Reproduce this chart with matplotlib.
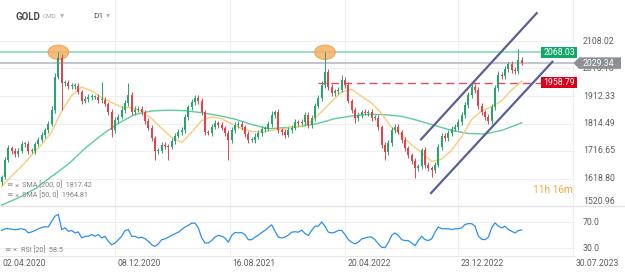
import numpy as np
import matplotlib
matplotlib.use("Agg")
import matplotlib.pyplot as plt
from matplotlib.patches import Ellipse, Polygon, Rectangle
import matplotlib.transforms as mtransforms

plt.rcParams['font.family'] = ['Roboto', 'DejaVu Sans']

# ---------------- data (weekly-ish bars) ----------------
first_open = 1606
closes = [
    1624, 1685, 1727, 1717, 1706, 1717, 1742, 1742, 1717, 1717,
    1742, 1756, 1774, 1791, 1813, 1863, 1980, 2048, 1959, 1959,
    1948, 1948, 1948, 1927, 1895, 1902, 1909, 1909, 1909, 1898,
    1898, 1884, 1855, 1791, 1827, 1838, 1863, 1887, 1916, 1855,
    1863, 1866, 1855, 1823, 1799, 1763, 1717, 1717, 1738, 1734,
    1731, 1752, 1770, 1784, 1791, 1838, 1873, 1891, 1905, 1895,
    1855, 1784, 1781, 1802, 1816, 1809, 1799, 1781, 1756, 1791,
    1809, 1813, 1802, 1777, 1756, 1756, 1767, 1781,
    1795, 1795, 1813, 1845, 1855, 1791, 1784, 1774, 1791, 1799,
    1820, 1816, 1820, 1845, 1809, 1834, 1877, 1905, 1952, 1998,
    1944, 1923, 1930, 1934, 1969, 1952, 1895, 1863, 1834, 1845,
    1855, 1852, 1855, 1834, 1834, 1802, 1738, 1713, 1745,
    1791, 1802, 1784, 1756, 1727, 1702, 1681, 1656, 1663, 1720,
    1667, 1656, 1649, 1667, 1731, 1770, 1763, 1781, 1795, 1802,
    1820, 1845, 1880, 1916, 1944, 1934, 1877, 1855, 1838, 1823,
    1873, 1941, 1987, 1983, 2008, 2026, 2005, 2001, 2040, 2029.34,
]
wick_hi = [
    8, 10, 12, 8, 10, 9, 12, 8, 10, 9,
    8, 10, 9, 8, 10, 12, 14, 22, 15, 12,
    10, 12, 9, 10, 8, 12, 9, 10, 8, 12,
    64, 10, 8, 12, 9, 10, 12, 10, 44, 10,
    12, 9, 10, 8, 10, 9, 8, 12, 10, 9,
    8, 10, 9, 10, 12, 10, 9, 12, 11, 10,
    10, 9, 8, 12, 10, 9, 10, 8, 9, 12,
    10, 12, 9, 8, 10, 9, 12, 10,
    9, 12, 10, 14, 8, 10, 9, 10, 12, 9,
    10, 8, 12, 10, 9, 10, 12, 10, 14, 72,
    12, 10, 9, 10, 18, 10, 9, 8, 10, 12,
    9, 10, 8, 12, 9, 10, 8, 10, 12,
    10, 9, 12, 8, 10, 9, 8, 10, 9, 8,
    10, 9, 8, 10, 12, 10, 9, 12, 10, 9,
    10, 12, 10, 9, 12, 10, 9, 10, 8, 10,
    12, 10, 14, 10, 12, 9, 10, 12, 40, 10,
]
wick_lo = [
    10, 8, 9, 12, 10, 9, 8, 10, 12, 9,
    10, 8, 9, 10, 12, 9, 10, 8, 96, 10,
    12, 9, 10, 8, 12, 9, 10, 12, 9, 10,
    10, 9, 12, 25, 10, 9, 8, 10, 9, 12,
    10, 9, 12, 10, 9, 10, 32, 10, 9, 12,
    46, 9, 10, 8, 10, 9, 12, 10, 9, 10,
    12, 10, 9, 10, 8, 12, 9, 10, 71, 10,
    9, 10, 12, 9, 10, 8, 10, 9,
    10, 9, 8, 12, 10, 9, 10, 12, 9, 10,
    9, 10, 8, 10, 12, 9, 10, 8, 10, 12,
    10, 9, 12, 10, 9, 10, 8, 12, 18, 10,
    10, 9, 12, 10, 8, 10, 9, 28, 10,
    9, 10, 8, 12, 10, 9, 12, 35, 10, 9,
    10, 9, 24, 10, 9, 12, 10, 9, 10, 8,
    9, 10, 12, 9, 10, 12, 10, 9, 12, 10,
    9, 10, 12, 9, 10, 12, 10, 9, 10, 8,
]
sma200_bars = list(range(0, 156, 5)) + [156]
sma200_vals = [
    1524, 1550, 1582, 1626, 1670, 1726, 1774, 1815, 1847, 1859,
    1862, 1860, 1853, 1843, 1830, 1811, 1796, 1800, 1804, 1815,
    1832, 1841, 1847, 1846, 1840, 1825, 1807, 1790, 1779, 1777,
    1790, 1812, 1817.42,
]
sma50_bars = list(range(0, 157, 3))
sma50_vals = [
    1590, 1628, 1662, 1702, 1740, 1784, 1859, 1914, 1944, 1930,
    1907, 1889, 1873, 1870, 1859, 1832, 1797, 1765, 1747, 1784,
    1825, 1838, 1832, 1813, 1797, 1786, 1784, 1790, 1795, 1800,
    1806, 1823, 1857, 1893, 1927, 1936, 1911, 1887, 1850, 1800,
    1774, 1738, 1711, 1679, 1688, 1720, 1767, 1829, 1859, 1875,
    1895, 1934, 1964.81,
]
rsi_vals = [
    57.7, 60.3, 60.3, 59.6, 58.7, 59.5, 60.3, 59, 53.8, 55.4,
    57.5, 60.3, 62.2, 63.5, 63, 72, 79.9, 82.5, 59, 61.7,
    56.4, 57.5, 53.8, 55.4, 46, 48.6, 48.6, 51.2, 48.6, 51.2,
    46, 48.6, 40.7, 35.5, 38, 43.3, 48.6, 57.5, 59, 48.6,
    48.6, 46, 47.1, 45, 40.7, 35.5, 32.9, 36.8, 43.3, 44.6,
    47.3, 50, 52.5, 55, 59, 63, 65.6, 69, 69, 61.7,
    46, 38.2, 38.2, 42, 47.3, 50, 48.6, 46, 39.4, 49.9,
    54.6, 53.8, 54.4, 51, 43.3, 43.3, 47.3, 50.4, 54.4, 57.7,
    62.4, 66.4, 56.4, 47.3, 46, 47.3, 50.4, 55, 55.6, 55,
    58.2, 53, 50, 57.7, 64.3, 64.3,
    70.8, 64.3, 55, 53.8, 55, 57.7, 57.7, 51.2, 43.3, 39.4,
    36.8, 39.4, 44.6, 46, 47.3, 47.3, 43.3, 36.8, 31.6, 31,
    38.8, 50, 53.8, 50, 43.3, 42, 42, 38.2, 34.2, 42,
    48.6, 43.3, 42, 44.6, 55, 63, 60.3, 60.3, 60.3, 59,
    60.3, 60.3, 61.7, 66.9, 68.2, 68.2, 64.3, 49, 44, 43.3,
    47.3, 61.7, 69.5, 64.3, 61.7, 64.3, 59, 56.4, 53.8, 57.5,
    58.5,
]
price_ticks = [2108.02, 2010.18, 1912.33, 1814.49, 1716.65, 1618.80, 1520.96]
rsi_ticks = [70.0, 30.0]
date_labels = ['02.04.2020', '08.12.2020', '16.08.2021', '20.04.2022', '23.12.2022', '30.07.2023']
date_bars = [-0.5, 34.0, 68.5, 103.0, 137.0, 171.5]
resistance = 2068.03
last_price = 2029.34
support = 1958.79
support_from_bar = 95
sma200_last = 1817.42
sma50_last = 1964.81
rsi_last = 58.5
rsi_period = 20
channel_upper_x = [125.8, 160.5]
channel_upper_y = [1758, 2207]
channel_lower_x = [128.8, 165.2]
channel_lower_y = [1567, 2034]

n = len(closes)
assert len(wick_hi) == n and len(wick_lo) == n and len(rsi_vals) == n
assert len(sma200_bars) == len(sma200_vals) and len(sma50_bars) == len(sma50_vals)

# ---------------- styling ----------------
W, H = 625, 275
GREEN = '#26a66c'
RED = '#e6424c'
GRID = '#efefef'
TXT = '#5b5e63'
LEG = '#808080'

fig = plt.figure(figsize=(W / 100, H / 100), dpi=100)
fig.patch.set_facecolor('white')

def fx(px):
    return px / W

def fy(py):
    return 1 - py / H

ax = fig.add_axes([0, fy(206), fx(575), 206 / H])
axr = fig.add_axes([0, fy(256), fx(575), 50 / H], sharex=ax)
for a in (ax, axr):
    for s in a.spines.values():
        s.set_visible(False)
    a.tick_params(left=False, bottom=False, labelleft=False, labelbottom=False)
    a.set_facecolor('none')

ax.set_xlim(-0.5, 172.0)
ax.set_ylim(1520.96, 2253.9)
axr.set_ylim(18.0, 95.6)

idx = np.arange(n)
c = np.array(closes, dtype=float)
o = np.array([first_open] + closes[:-1], dtype=float)
hi = np.maximum(o, c) + np.array(wick_hi)
lo = np.minimum(o, c) - np.array(wick_lo)
up = c >= o
cols = np.where(up, GREEN, RED)

# grid
for p in price_ticks[:-1]:
    ax.axhline(p, color=GRID, lw=0.8, zorder=0)
for xb in date_bars[1:]:
    ax.axvline(xb, color=GRID, lw=0.8, zorder=0)
    axr.axvline(xb, color=GRID, lw=0.8, zorder=0)
for r in rsi_ticks:
    axr.axhline(r, color=GRID, lw=0.8, zorder=0)
# panel separators
fig.add_artist(plt.Line2D([0, 1], [fy(206), fy(206)], transform=fig.transFigure, color='#e2e2e2', lw=0.9))
fig.add_artist(plt.Line2D([0, fx(575)], [fy(256), fy(256)], transform=fig.transFigure, color='#e8e8e8', lw=0.8))

# level lines
ax.axhline(resistance, color='#7fd8b2', lw=1.1, zorder=1)
ax.axhline(last_price, color='#c3c6ca', lw=1.5, zorder=1)
ax.plot([support_from_bar, 172.0], [support, support], color='#e0505a', lw=1.0,
        dashes=(5.8, 3.4), zorder=1.5)

# ellipses on the two peaks
peak1 = int(np.argmax(hi[:60]))
peak2 = 80 + int(np.argmax(hi[80:120]))
for pk in (peak1, peak2):
    ax.add_patch(Ellipse((pk, resistance), 6.2, 51, facecolor='#f6b064', edgecolor='#f0a048',
                         lw=0.8, alpha=0.85, zorder=2.5))

# SMAs
ax.plot(sma200_bars, sma200_vals, color='#5ccc9e', lw=1.0, zorder=2)
ax.plot(sma50_bars, sma50_vals, color='#f8cc78', lw=1.0, zorder=2)

# candles
ax.vlines(idx, lo, hi, colors=cols, lw=0.7, zorder=3)
ax.bar(idx, np.maximum(np.abs(c - o), 2.0), bottom=np.minimum(o, c), width=0.6,
       color=cols, lw=0, zorder=3)

# channel
ax.plot(channel_upper_x, channel_upper_y, color='#5c5f95', lw=1.6, zorder=4, clip_on=False)
ax.plot(channel_lower_x, channel_lower_y, color='#5c5f95', lw=1.6, zorder=4, clip_on=False)

# RSI
axr.plot(idx, rsi_vals, color='#2b8ff0', lw=0.9, zorder=3)

# price axis labels
bt = mtransforms.blended_transform_factory(fig.transFigure, ax.transData)
for p in price_ticks:
    tr = bt if p != price_ticks[-1] else mtransforms.offset_copy(bt, fig=fig, y=4, units='dots')
    ax.text(fx(583), p, f'{p:.2f}', transform=tr, ha='left', va='center', fontsize=6.3,
            color=TXT, clip_on=False, zorder=5)
btr = mtransforms.blended_transform_factory(fig.transFigure, axr.transData)
for r in rsi_ticks:
    axr.text(fx(583), r, f'{r:.1f}', transform=btr, ha='left', va='center', fontsize=6.3,
             color=TXT, clip_on=False)

# value boxes
def box(level, text, fc, x0=541, x1=577, hh=19.5):
    ax.add_patch(Rectangle((fx(x0), level - hh), fx(x1 - x0), 2 * hh, transform=bt,
                           facecolor=fc, edgecolor='none', clip_on=False, zorder=6))
    ax.text(fx(x0 + 2.5), level, text, transform=bt, ha='left', va='center', fontsize=6.3,
            color='white', clip_on=False, zorder=7)

box(resistance, f'{resistance:.2f}', '#13a86b')
box(support, f'{support:.2f}', '#d9001b')
hh = 20.5
poly = Polygon([(fx(573.5), last_price), (fx(579), last_price + hh), (fx(621), last_price + hh),
                (fx(621), last_price - hh), (fx(579), last_price - hh)], closed=True,
               transform=bt, facecolor='#8d9095', edgecolor='none', clip_on=False, zorder=6)
ax.add_patch(poly)
ax.text(fx(583), last_price, f'{last_price:.2f}', transform=bt, ha='left', va='center',
        fontsize=6.3, color='white', clip_on=False, zorder=7)

# date labels
dt = mtransforms.blended_transform_factory(axr.transData, fig.transFigure)
dt = mtransforms.offset_copy(dt, fig=fig, x=2.5, units='dots')
for xb, lab in zip(date_bars, date_labels):
    axr.text(xb, fy(263.5), lab, transform=dt, ha='left', va='center', fontsize=6.2,
             color=TXT, clip_on=False)

# header
fig.text(fx(15), fy(16.5), 'GOLD', fontsize=7.0, fontweight='bold', color='#4d4d4d', va='center')
fig.text(fx(43), fy(16.5), 'CMD', fontsize=4.6, color='#a0a0a0', va='center')
fig.text(fx(60), fy(15.5), '▾', fontsize=6, color='#b5b5b5', va='center')
fig.text(fx(93), fy(16.5), 'D1', fontsize=6.0, color='#555555', va='center')
fig.text(fx(106), fy(15.5), '▾', fontsize=6, color='#b5b5b5', va='center')

# legends
for yy, lab in ((185.5, f'SMA [200, 0]  {sma200_last:.2f}'), (195.5, f'SMA [50, 0]  {sma50_last:.2f}')):
    fig.text(fx(6), fy(yy), '≡', fontsize=5.5, color='#9a9a9a', va='center')
    fig.text(fx(15), fy(yy), '×', fontsize=5.5, color='#9a9a9a', va='center')
    fig.text(fx(22), fy(yy), lab, fontsize=5.2, color=LEG, va='center')
fig.text(fx(4), fy(250), '≡', fontsize=5.5, color='#9a9a9a', va='center')
fig.text(fx(13), fy(250), '×', fontsize=5.5, color='#9a9a9a', va='center')
fig.text(fx(21), fy(250), f'RSI [{rsi_period}]  {rsi_last}', fontsize=5.2, color=LEG, va='center')

# countdown
fig.text(fx(533), fy(190), '11h 16m', fontsize=7.3, color='#f5a63c', va='center', ha='left')

fig.savefig('out.png', dpi=100, facecolor='white')
